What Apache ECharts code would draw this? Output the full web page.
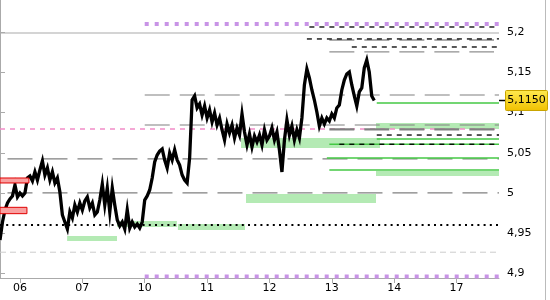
<!DOCTYPE html>
<html><head><meta charset="utf-8">
<script src="https://cdn.jsdelivr.net/npm/echarts@6/dist/echarts.min.js"></script>
<style>html,body{margin:0;padding:0;background:#fff}#c{width:550px;height:300px}</style>
</head><body><div id="c"></div>
<script>
// ---- data ----
const dayLabels = ['06', '07', '10', '11', '12', '13', '14', '17'];
const dayStartSlot = [8, 33, 58, 83, 108, 133, 158, 183];
const slotRange = [0, 200];
const yTicks = [4.9, 4.95, 5, 5.05, 5.1, 5.15, 5.2];
const yRange = [4.8941, 5.2402];
const lastPrice = 5.1150;
const price = [
  4.9414, 4.9638, 4.9788, 4.9875, 4.9925, 4.9962, 5.0099, 4.9950, 4.9999, 4.9962,
  4.9999, 5.0186, 5.0211, 5.0149, 5.0261, 5.0161, 5.0286, 5.0398, 5.0223, 5.0311,
  5.0161, 5.0261, 5.0124, 5.0186, 5.0012, 4.9726, 4.9638, 4.9551, 4.9763, 4.9688,
  4.9850, 4.9763, 4.9875, 4.9788, 4.9900, 4.9950, 4.9813, 4.9875, 4.9726, 4.9763,
  4.9912, 5.0111, 4.9850, 5.0062, 4.9763, 5.0062, 4.9850, 4.9663, 4.9589, 4.9638,
  4.9551, 4.9788, 4.9564, 4.9638, 4.9576, 4.9613, 4.9564, 4.9638, 4.9912, 4.9962,
  5.0037, 5.0186, 5.0385, 5.0472, 5.0522, 5.0547, 5.0410, 5.0311, 5.0497, 5.0410,
  5.0535, 5.0410, 5.0348, 5.0223, 5.0161, 5.0124, 5.0435, 5.1157, 5.1207, 5.1058,
  5.1107, 5.0970, 5.1082, 5.0933, 5.1033, 5.0883, 5.0995, 5.0846, 5.0933, 5.0784,
  5.0659, 5.0858, 5.0746, 5.0846, 5.0684, 5.0809, 5.0721, 5.0983, 5.0759, 5.0597,
  5.0734, 5.0572, 5.0709, 5.0634, 5.0721, 5.0597, 5.0784, 5.0659, 5.0709, 5.0809,
  5.0659, 5.0759, 5.0535, 5.0261, 5.0659, 5.0908, 5.0721, 5.0833, 5.0659, 5.0784,
  5.0684, 5.0933, 5.1344, 5.1543, 5.1431, 5.1282, 5.1157, 5.1008, 5.0833, 5.0933,
  5.0858, 5.0933, 5.0896, 5.0983, 5.0933, 5.1058, 5.1095, 5.1282, 5.1406, 5.1481,
  5.1506, 5.1344, 5.1207, 5.1082, 5.1257, 5.1307, 5.1556, 5.1655, 5.1506, 5.1207,
  5.1150
];
// levels: [startSlot, endSlot, value]
const purpleLevels = [[58, 200, 5.2103], [58, 200, 4.8959]];
const greySolidLevels = [[0, 200, 5.1991]];
const greyLongDashLevels = [[58, 200, 5.1219], [58, 200, 5.0846], [3, 200, 5.0423], [3, 200, 5.0]];
const greyThickDashLevels = [[132, 200, 5.0792]];
const greyLightDashLevels = [[132, 198, 5.1904], [132, 198, 5.1755]];
const pinkLevels = [[0, 200, 5.0796]];
const greenLevels = [[151, 200, 5.112], [151, 200, 5.0672], [132, 200, 5.0606], [131, 200, 5.0435], [132, 200, 5.0286]];
const blackDashLevels = [[124, 200, 5.2066], [123, 200, 5.1917], [141, 200, 5.1817], [151, 200, 5.0721], [136, 200, 5.0606]];
const lightDashLevels = [[0, 200, 4.9262]];
const dottedLevels = [[0, 200, 4.9601]];
// zones: [startSlot, endSlot, high, low]
const greenZones = [
  [26.9, 46.9, 4.9464, 4.9402], [46.9, 70.9, 4.9651, 4.9576], [71.3, 98.2, 4.9613, 4.9539],
  [98.6, 150.7, 4.9987, 4.9875], [96.6, 152.3, 5.0684, 5.0560], [150.7, 200, 5.0871, 5.0796],
  [150.7, 200, 5.0273, 5.0211]
];
const redZones = [[0, 11.6, 5.0186, 5.0124], [0, 10.8, 4.9821, 4.9742]];

// ---- chart ----
const chart = echarts.init(document.getElementById('c'), null, {renderer: 'canvas'});
const fmtY = v => String(+(+v).toFixed(3)).replace('.', ',');
const series = [];
function addLevels(levels, lineStyle, z) {
  levels.forEach(([s, e, v]) => series.push({
    type: 'line', data: [[s, v], [e, v]], symbol: 'none', silent: true, z: z,
    lineStyle: Object.assign({}, lineStyle), animation: false
  }));
}
function zoneSeries(zones, style, z) {
  return {
    type: 'custom', z: z, silent: true, animation: false, clip: true,
    data: zones, encode: {x: [0, 1], y: [2, 3]},
    renderItem: (params, api) => {
      const p1 = api.coord([api.value(0), api.value(2)]);
      const p2 = api.coord([api.value(1), api.value(3)]);
      return {type: 'rect', shape: {x: p1[0], y: p1[1], width: p2[0] - p1[0], height: p2[1] - p1[1]}, style: style};
    }
  };
}
series.push(zoneSeries(greenZones, {fill: '#b4eab4'}, 1));
addLevels(greySolidLevels, {color: '#aaaaaa', width: 1.2, type: 'solid'}, 2);
addLevels(lightDashLevels, {color: '#cccccc', width: 1, type: [6, 4]}, 2);
addLevels(pinkLevels, {color: '#f28cc8', width: 1.3, type: [5, 5]}, 2);
addLevels(greyLongDashLevels, {color: '#808080', width: 1.2, type: [25, 10]}, 2);
addLevels(greyThickDashLevels, {color: '#808080', width: 2.2, type: [25, 10]}, 2);
addLevels(greyLightDashLevels, {color: '#909090', width: 1.3, type: [25, 10]}, 2);
addLevels(greenLevels, {color: '#44c844', width: 1.4, type: 'solid'}, 2);
addLevels(blackDashLevels, {color: '#000000', width: 1.3, type: [5, 5]}, 3);
addLevels(dottedLevels, {color: '#000000', width: 2, type: [2, 4.2]}, 3);
addLevels(purpleLevels, {color: '#c893e6', width: 4, type: [4, 6]}, 3);
series.push({
  type: 'line', data: price.map((v, i) => [i, v]), symbol: 'none', z: 5, animation: false,
  lineStyle: {color: '#000', width: 3.3, join: 'miter'}
});
series.push(zoneSeries(redZones, {fill: '#f9a0a0', stroke: '#e00000', lineWidth: 1}, 6));

chart.setOption({
  animation: false,
  grid: {left: 0, right: 51, top: 0, bottom: 22, containLabel: false},
  xAxis: {
    type: 'value', min: slotRange[0], max: slotRange[1],
    splitLine: {show: false},
    axisLine: {show: true, onZero: false, lineStyle: {color: '#aaaaaa'}},
    axisTick: {show: true, length: 5, lineStyle: {color: '#aaaaaa'}, customValues: dayStartSlot},
    axisLabel: {
      customValues: dayStartSlot, margin: 5, color: '#000', fontFamily: 'DejaVu Sans', fontSize: 11,
      formatter: v => dayLabels[dayStartSlot.indexOf(Math.round(v))] || ''
    }
  },
  yAxis: {
    type: 'value', position: 'right', min: yRange[0], max: yRange[1],
    splitLine: {show: false},
    axisLine: {show: true, lineStyle: {color: '#aaaaaa'}},
    axisTick: {show: true, length: 5, lineStyle: {color: '#aaaaaa'}, customValues: yTicks},
    axisLabel: {customValues: yTicks, margin: 8, color: '#000', fontFamily: 'DejaVu Sans', fontSize: 11, formatter: fmtY}
  },
  series: series
});
const yPx = Math.round(chart.convertToPixel({yAxisIndex: 0}, lastPrice));
chart.setOption({
  graphic: [
    {type: 'line', z: 0, shape: {x1: 545.5, y1: 0, x2: 545.5, y2: 300}, style: {stroke: '#bbbbbb', lineWidth: 1}},
    {type: 'line', z: 10, shape: {x1: 499, y1: yPx - 0.5, x2: 506, y2: yPx - 0.5}, style: {stroke: '#000', lineWidth: 1.5}},
    {type: 'rect', z: 10, shape: {x: 505.5, y: yPx - 10.5, width: 42, height: 20, r: 1},
      style: {stroke: '#c9a400', lineWidth: 1,
        fill: new echarts.graphic.LinearGradient(0, 0, 0, 1, [{offset: 0, color: '#ffea50'}, {offset: 1, color: '#f0c000'}])}},
    {type: 'text', z: 11, x: 526.5, y: yPx - 0.5,
      style: {text: lastPrice.toFixed(4).replace('.', ','), fill: '#000', font: '11px "DejaVu Sans"', align: 'center', verticalAlign: 'middle'}}
  ]
});
</script></body></html>
